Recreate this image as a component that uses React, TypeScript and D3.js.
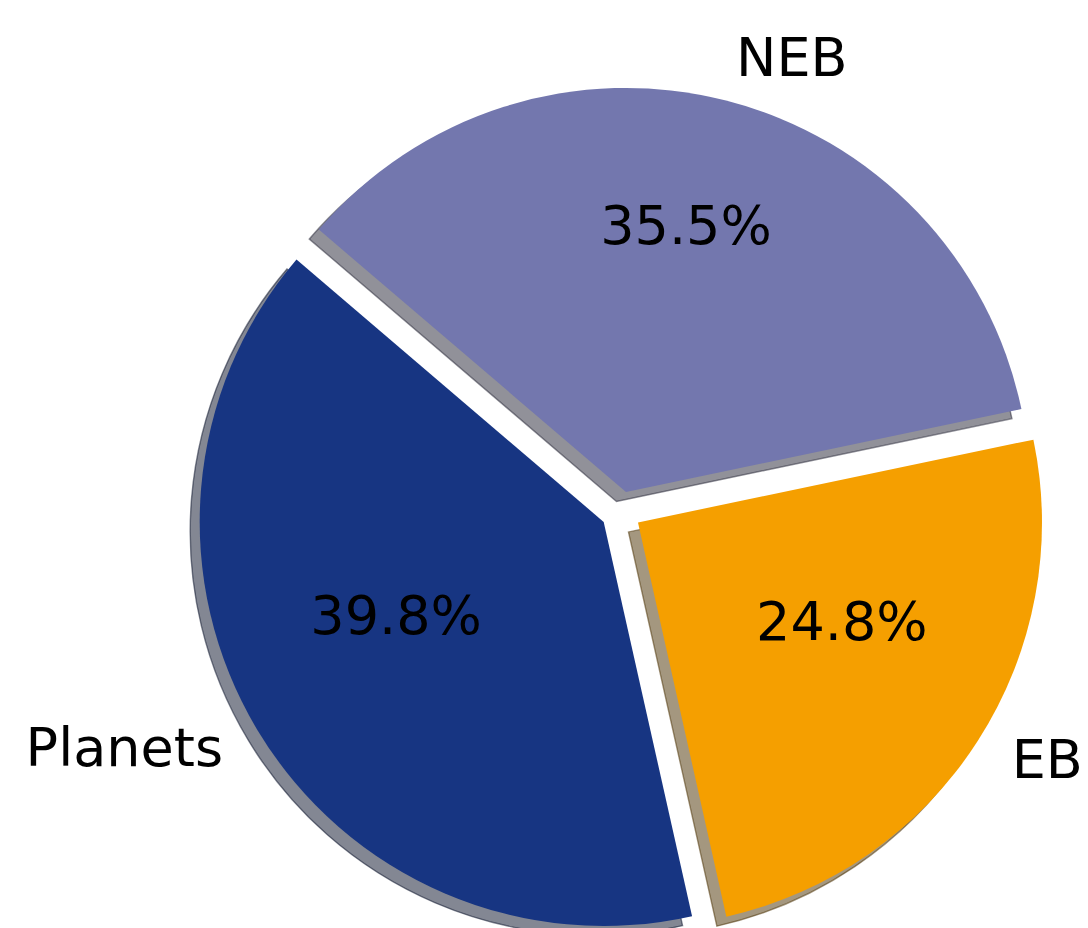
import React from "react";
import * as d3 from "d3";

const categories = ["Planets", "EB", "NEB"];
const values = [39.8, 24.8, 35.5];
const colors = ["#173582", "#f59f00", "#7377ae"];
const explode = [0.05, 0.05, 0.05];

const W = 1088;
const H = 928;
const CX = 621;
const CY = 511.5;
const R = 404;
const START_DEG = 139.5;
const FONT = 54;
const SHADOW = 9.5;

export default function App() {
  const start = Math.PI / 2 - (START_DEG * Math.PI) / 180;
  const pie = d3
    .pie<number>()
    .sort(null)
    .startAngle(start)
    .endAngle(start - 2 * Math.PI);
  const arcs = pie(values);
  const arc = d3.arc<any>().innerRadius(0).outerRadius(R);

  const items = arcs.map((a, i) => {
    const m = (a.startAngle + a.endAngle) / 2;
    const ux = Math.sin(m);
    const uy = -Math.cos(m);
    const tx = CX + explode[i] * R * ux;
    const ty = CY + explode[i] * R * uy;
    return { a, i, ux, uy, tx, ty, path: arc(a) as string };
  });

  const shade = (c: string) => {
    const rgb = d3.rgb(c);
    return d3.rgb(rgb.r * 0.3, rgb.g * 0.3, rgb.b * 0.3).formatHex();
  };

  return (
    <svg
      width={W}
      height={H}
      style={{ position: "absolute", left: 0, top: 0, background: "#fff" }}
      fontFamily="DejaVu Sans"
    >
      {items.map((it) => (
        <path
          key={"s" + it.i}
          d={it.path}
          transform={`translate(${it.tx - SHADOW},${it.ty + SHADOW})`}
          fill={shade(colors[it.i])}
          fillOpacity={0.5}
          stroke={shade(colors[it.i])}
          strokeOpacity={0.5}
          strokeWidth={1.4}
        />
      ))}
      {items.map((it) => (
        <path
          key={"w" + it.i}
          d={it.path}
          transform={`translate(${it.tx},${it.ty})`}
          fill={colors[it.i]}
        />
      ))}
      {items.map((it) => {
        const lx = it.tx + 1.1 * R * it.ux;
        const ly = it.ty + 1.1 * R * it.uy;
        return (
          <text
            key={"l" + it.i}
            x={lx}
            y={ly + 0.275 * FONT}
            fontSize={FONT}
            textAnchor={lx > CX ? "start" : "end"}
            fill="#000"
          >
            {categories[it.i]}
          </text>
        );
      })}
      {items.map((it) => {
        const px = it.tx + 0.6 * R * it.ux;
        const py = it.ty + 0.6 * R * it.uy;
        const pct = (values[it.i] / d3.sum(values)) * 100;
        return (
          <text
            key={"p" + it.i}
            x={px}
            y={py + 0.275 * FONT - 28}
            fontSize={FONT}
            textAnchor="middle"
            fill="#000"
          >
            {pct.toFixed(1) + "%"}
          </text>
        );
      })}
    </svg>
  );
}
